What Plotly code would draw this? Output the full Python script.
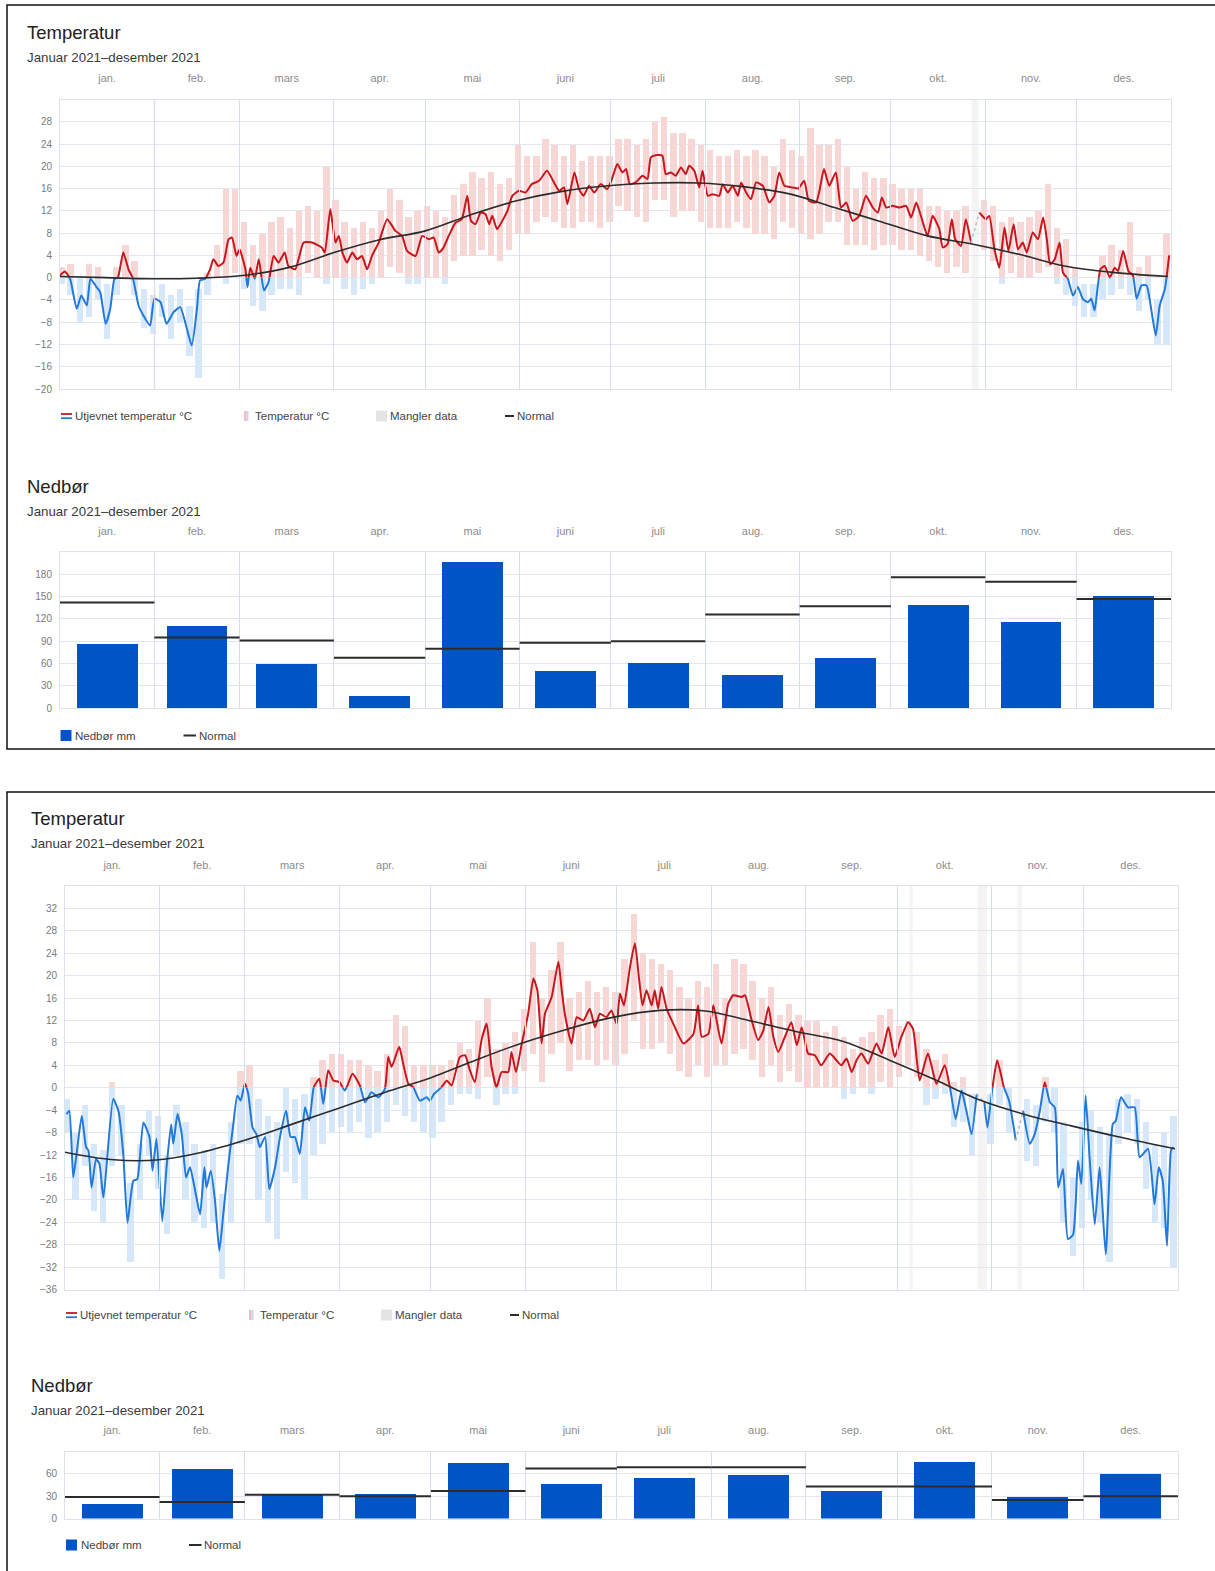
import pandas as pd
import plotly.graph_objects as go

W, H = 1215, 1571
START = pd.Timestamp("2021-01-01")
DAY_MS = 86400000
FONT = "Liberation Sans, Arial, sans-serif"

MONTHS = ["jan.", "feb.", "mars", "apr.", "mai", "juni", "juli", "aug.", "sep.", "okt.", "nov.", "des."]
PERIOD = "Januar 2021–desember 2021"

RED, BLUE = "#c8161d", "#2379d9"
PINK, LIGHTBLUE = "#f7d6d6", "#d5e7f9"
NORMAL_C = "#2b2b2b"
BAR_C = "#0054c6"
HGRID, VGRID, FRAME = "#e1e7ee", "#d6dee7", "#dbe2ea"

# ---------------- panel 1 : temperature ----------------
T1_DAYS = [0, 1.6, 3.3, 5.5, 7, 8.8, 10, 12, 13.2, 15,
           16.5, 17.9, 19, 20.8, 22.5, 24, 25.8, 27.4, 29.6, 31,
           33, 35, 37.3, 39.5, 41.7, 43.3, 45, 46, 47.7, 49.3,
           50.4, 52, 53.7, 55.4, 56.5, 58, 59, 60.9, 61.6, 62.5,
           64, 65.3, 67, 68.5, 70.2, 71.8, 73.8, 75, 77.3, 80,
           82.8, 86, 87, 88.8, 90.5, 91.6, 92.8, 94.3, 96, 97.6,
           99.2, 100.9, 102.5, 104.7, 107.5, 110.2, 112.4, 114, 116.8, 119,
           121.2, 122.8, 124.4, 126, 127.7, 130, 132, 133.8, 135, 136.5,
           138.2, 139.8, 141, 142, 143.6, 145.3, 147, 148.6, 150.8, 153,
           155, 157.4, 160, 162.3, 164, 165.6, 166.7, 169, 170.5, 172,
           173.8, 175.5, 177.6, 179.8, 181.5, 183.1, 184.8, 186, 187.2, 189.1,
           191.4, 193, 194.1, 195.7, 197.9, 199, 200.7, 202.3, 204, 205.6,
           206.7, 208.4, 210, 211.1, 212.8, 214.4, 216.6, 217.7, 219.4, 221,
           222.7, 223.8, 225.4, 227, 228.7, 230.9, 233, 234.7, 236.3, 238,
           240.7, 242.5, 244.5, 246, 248.4, 249.5, 251, 252.7, 254.9, 256.6,
           258.3, 260.4, 262.6, 264.8, 267, 268.7, 270, 271.4, 273.6, 275.8,
           278, 279.6, 281.3, 283, 285, 286.7, 288.9, 290, 291.6, 293,
           294.1, 296, 297.6, 299.3, 300.6, 302, 304.2, 305.3, 307, 308.6,
           310.3, 311.6, 313.3, 314.7, 316.3, 317.6, 319.6, 321.3, 323, 324.2,
           325.3, 326.8, 328.4, 329.5, 331.1, 332.8, 334.4, 336, 337.7, 338.8,
           339.9, 341.8, 343.2, 344.9, 346.5, 347.6, 349.3, 351, 352.5, 353.7,
           355.3, 357, 358.3, 360, 361.3, 363, 364.4]
T1_SMOOTH = [0.4, 1.1, -0.2, -5.6, -3.2, -5, -0.2, -1.7, -2.6, -8.3,
             -5.6, -0.2, 0, 4.5, 1.5, -0.2, -5, -6.8, -8.6, -3.8,
             -4.4, -8.3, -6.2, -5.3, -9.2, -12.2, -5.6, -0.5, -0.2, 1.5,
             3.3, 2.1, 2.7, 6.9, 7.2, 3.9, 5.1, 1.5, -1.7, 1.8,
             -0.2, 3.3, -2.3, -0.8, 3.9, 2.7, 4.5, 2.1, 1.5, 6.3,
             6.3, 5.4, 4.5, 12.3, 6.3, 7.5, 4.5, 2.7, 4.5, 3.3,
             3.9, 1.5, 3.9, 6.3, 10.5, 8.4, 7.5, 4.8, 3.9, 7.5,
             6.9, 7.2, 4.5, 5.4, 7.5, 9.9, 10.5, 14.7, 10.2, 9.6,
             11.7, 11.4, 9.6, 11.1, 8.7, 10.2, 12, 14.7, 15.6, 15.3,
             16.8, 17.4, 19.2, 17.1, 15.6, 16.2, 13.2, 18.9, 15.9, 14.7,
             16.5, 15.3, 16.8, 15.9, 18, 20.4, 18.9, 19.5, 16.8, 17.1,
             18.3, 17.7, 21.6, 22, 21.9, 18.6, 18.9, 18.3, 19.8, 18.6,
             20.1, 19.2, 16.2, 19.2, 14.7, 15, 14.7, 16.8, 15.3, 16.5,
             14.7, 17.1, 15.3, 14.1, 17.1, 16.5, 13.5, 14.7, 18.9, 16.5,
             16.2, 16, 17.4, 13.8, 13.5, 15.6, 19.5, 16.5, 18.9, 12.6,
             13.5, 10.2, 11.1, 14.7, 12.6, 11.7, 14.4, 12.6, 12.9, 12.6,
             12.9, 10.8, 13.5, 10.8, 7.5, 11.1, 8.7, 5.4, 6, 10.5,
             6.9, 5.7, 10.5, 6.3, None, 11.7, 10.5, 11.1, 5.1, 1.8,
             9, 4.8, 9.6, 5.1, 6.3, 4.5, 8.1, 6.9, 10.8, 6.9,
             2.4, 3.3, 6.3, 0.9, -0.2, -3.2, -1.7, -3.8, -4.4, -3.8,
             -5.9, 1.5, 2.1, 0, 1.8, 1.2, 4.8, 1.2, 0.4, -3.8,
             -1.4, -1.4, -5, -10.4, -5, -2, 4]
T1_NORMAL_DAYS = [0, 15, 30, 45, 60, 75, 90, 105, 120, 135, 150, 165, 180,
                  195, 210, 225, 240, 255, 270, 285, 300, 315, 330, 345, 364]
T1_NORMAL = [0.2, 0, -0.2, -0.1, 0.4, 1.8, 4.5, 6.8, 8.4, 11.3, 13.8, 15.5, 16.5,
             17, 17, 16.3, 15, 12.5, 10, 7.5, 6, 4.2, 2.1, 1, 0.2]
GRID_DAYS = list(range(0, 364, 3))
T1_LOW = [-1, -3, -8, -7, -4, -11, -3, 0, -3, -9,
          -10, -7, -11, -8, -14, -18, -3, 0, -1, 1,
          -2, -5, -6, -3, -2, -2, -3, 1, 0, -1,
          0, -2, -3, -2, -1, 0, 2, 1, -1, -1,
          0, 0, -1, 3, 4, 4, 5, 4, 3, 5,
          8, 8, 10, 11, 10, 9, 9, 10, 10, 9,
          10, 13, 12, 11, 10, 14, 14, 11, 12, 12,
          10, 9, 9, 9, 10, 9, 8, 8, 7, 10,
          9, 8, 7, 8, 10, 10, 6, 6, 6, 5,
          6, 6, 5, 5, 4, 3, 2, 1, 2, 1,
          None, 5, 3, -1, 1, 0, 0, 1, 2, -1,
          -3, -5, -7, -7, -4, -3, -2, -3, -6, -4,
          -12, -12]
T1_HIGH = [2, 2.5, 0, 2.5, 2, -1, 2, 6, 3, -2,
           -3, -1, -3, -2, -5, -2, 1, 6, 16, 16,
           10, 6, 8, 10, 11, 9, 12, 13, 12, 20,
           14, 10, 9, 10, 9, 12, 16, 14, 11, 12,
           13, 12, 11, 15, 17, 19, 18, 19, 17, 18,
           24, 22, 22, 25, 24, 22, 24, 21, 22, 22,
           22, 25, 25, 24, 25, 28, 29, 26, 26, 25,
           24, 23, 22, 22, 23, 22, 23, 22, 20, 25,
           23, 22, 27, 24, 24, 25, 20, 16, 19, 18,
           18, 17, 16, 16, 16, 13, 13, 12, 12, 13,
           None, 14, 13, 10, 11, 10, 11, 12, 17, 9,
           7, 2, -1, -1, 4, 6, 5, 10, 2, 4,
           -4, 8]
T1_GAP_DAYS = [299.3, 302]
T1_GAP = [6.3, 11.7]
T1_MISSING = [(30.7, 31.4), (299.5, 301.8)]
T1_TICKS = [-20, -16, -12, -8, -4, 0, 4, 8, 12, 16, 20, 24, 28]

# ---------------- panel 1 : precipitation ----------------
P1_MM = [87, 111, 59, 16, 197, 50, 61, 45, 67, 139, 116, 151]
P1_NORMAL = [142, 95, 91, 68, 80, 88, 90, 126, 137, 176, 170, 147]
P1_TICKS = [0, 30, 60, 90, 120, 150, 180]

# ---------------- panel 2 : temperature ----------------
T2_DAYS = [0.5, 1.4, 2.7, 3.8, 5.5, 6.9, 7.7, 8.7, 10.2, 11.3,
           12.6, 15.8, 17.5, 19.1, 20.5, 22.4, 23.7, 25.7, 27.7, 28.7,
           30, 31.9, 33.3, 34.8, 35.5, 36.9, 38.3, 39.7, 41, 42.9,
           44.3, 45.7, 46.4, 47.8, 49.2, 50.6, 51.9, 53.6, 55.2, 56.5,
           57.6, 59, 60.1, 61.5, 62.8, 63.9, 65.6, 67, 68.9, 70.5,
           72.5, 74, 75.4, 77, 78.7, 80.1, 81.6, 83.4, 84.7, 86.3,
           88, 90, 91.8, 94.3, 96.7, 98.4, 100.5, 102.7, 104.9, 106,
           107.1, 109.6, 110.9, 112.6, 114.2, 116.4, 118.6, 119.7, 121, 123.5,
           125.2, 126.8, 129.5, 131.2, 132.8, 134.4, 136.6, 138.3, 139.9, 141.5,
           143.2, 145.4, 146.4, 147.9, 149.8, 151.9, 153.6, 154.9, 156.3, 157.4,
           159.6, 161.8, 162.9, 164, 166.1, 167.8, 170, 172.1, 173.8, 175.4,
           177.6, 179.2, 180.9, 182, 183.3, 185.3, 186.9, 188.3, 189.4, 190.7,
           192.4, 193.4, 194.5, 195.6, 197.3, 199.5, 202.8, 206.1, 207.6, 208.8,
           211, 212.6, 215.3, 217.5, 219.1, 221.9, 223, 225.2, 227.3, 229,
           230.7, 232.3, 233.9, 236.1, 238.2, 240, 241.6, 243.7, 245.9, 248,
           250.8, 253, 254.6, 256.3, 258, 259.6, 261.2, 263.4, 266.1, 267.8,
           270, 272.1, 274.3, 276.5, 278.1, 280.3, 283, 285.8, 288.5, 290.2,
           292.1, 294, 295.6, 297.3, 299, 300.2, 301.5, 302.5, 304.1, 305.7,
           307.9, 309.6, 311.8, 313, 314.2, 316.4, 318, 319.7, 321.3, 323,
           324.6, 325.7, 327.3, 328.9, 330.6, 332.2, 333.3, 334.7, 336, 337.7,
           339.3, 341.3, 343.6, 344.6, 346.3, 348.6, 350.8, 352.4, 355.2, 357.3,
           358.7, 360, 361.4, 362.7, 363.5]
T2_SMOOTH = [-4.7, -4.1, -16.0, -11.8, -5.0, -10.6, -11.2, -17.8, -12.7, -13.6,
             -19.6, -2.0, -4.1, -11.8, -24.1, -16.6, -16.3, -6.2, -8.8, -14.8,
             -9.1, -23.8, -14.2, -6.5, -10.0, -4.7, -8.3, -16.0, -14.2, -19.0,
             -22.6, -14.2, -17.8, -14.8, -20.2, -29.1, -22.6, -13.6, -6.5, -1.4,
             -2.3, 0.7, -1.1, -7.1, -8.3, -10.6, -8.8, -18.1, -14.2, -8.8,
             -4.1, -8.8, -8.8, -11.8, -3.5, -5.9, 0.1, 1.6, -2.9, 3.1,
             1.3, 1.0, -0.5, 2.5, 0.4, -2.6, -0.8, -1.7, -0.2, 5.5,
             3.7, 7.3, 4.3, 0.7, 0.1, -2.3, -1.7, -2.3, -1.1, 0.1,
             1.3, 0.4, 5.5, 5.8, 3.1, 1.0, 8.5, 11.4, 3.7, 0.1,
             2.8, 2.8, 6.4, 2.8, 7.9, 13.2, 19.5, 17.4, 7.9, 13.2,
             16.2, 22.5, 17.4, 12.9, 7.9, 12.6, 12.0, 14.1, 10.8, 13.2,
             12.6, 13.8, 11.4, 16.8, 14.7, 21.6, 25.8, 19.2, 14.7, 17.4,
             14.7, 17.4, 14.1, 18.0, 14.1, 11.4, 7.9, 9.6, 14.7, 9.1,
             9.6, 14.7, 7.9, 15.0, 16.5, 16.2, 16.5, 12.0, 8.5, 10.2,
             14.4, 9.1, 6.4, 9.1, 11.7, 7.6, 10.8, 6.1, 5.8, 4.0,
             6.1, 4.9, 4.0, 5.2, 2.8, 4.9, 6.1, 4.3, 7.9, 6.1,
             10.8, 5.5, 9.1, 11.7, 10.5, 1.3, 6.1, 0.7, 4.0, 0.1,
             -5.6, -0.5, -4.1, -8.3, -1.1, None, -2.6, -7.1, -0.2, 4.9,
             0.1, -2.3, -9.4, None, -4.1, -10.0, -8.3, -4.1, 1.0, -2.6,
             -3.5, -17.8, -14.5, -27.0, -26.2, -13.0, -17.2, -1.4, -12.4, -24.4,
             -14.2, -29.7, -6.5, -5.9, -1.7, -3.5, -3.5, -12.4, -10.9, -20.8,
             -14.2, -16.6, -28.2, -11.2, -10.6]
T2_NORMAL_DAYS = T1_NORMAL_DAYS
T2_NORMAL = [-11.5, -12.8, -12.9, -11.5, -9.2, -6.4, -3.6, -0.8, 1.8, 5.0, 8.0, 10.5, 12.6,
             13.8, 13.7, 11.9, 10.0, 8.3, 5.0, 1.5, -2.2, -4.8, -6.8, -8.7, -10.9]
T2_LOW = [-8, -20, -14, -22, -24, -14, -12, -31, -20, -12,
          -18, -26, -12, -20, -24, -25, -24, -34, -24, -10,
          -10, -20, -24, -27, -15, -17, -20, -12, -10, -8,
          -7, -8, -6, -9, -8, -6, -3, -5, -6, -8,
          -9, -6, -3, -1, -1, -2, 2, -3, -1, -1,
          3, 6, 1, 6, 8, 3, 5, 5, 4, 5,
          4, 6, 12, 7, 7, 8, 6, 3, 2, 4,
          2, 4, 4, 6, 7, 5, 2, 4, 1, 3,
          1, 0, 0, 0, 0, -2, -1, 0, -1, 1,
          0, 2, 4, 2, -3, -2, -1, -7, -6, -12,
          None, -10, -3, -8, None, -13, -14, -6, -8, -24,
          -30, -25, -20, -24, -31, -10, -8, -10, -18, -24,
          -25, -32]
T2_HIGH = [-2, -8, -3, -10, -11, 1, -3, -17, -10, -4,
           -5, -12, -3, -6, -10, -11, -10, -19, -6, 3,
           4, -2, -5, -6, 0, -2, -1, 2, 5, 6,
           6, 5, 5, 4, 3, 6, 13, 11, 4, 4,
           4, 4, 5, 8, 7, 12, 16, 7, 8, 10,
           14, 26, 16, 21, 26, 16, 17, 19, 17, 18,
           17, 23, 31, 24, 23, 22, 21, 18, 16, 19,
           18, 22, 16, 23, 22, 19, 16, 18, 13, 15,
           13, 12, 12, 10, 11, 9, 7, 9, 10, 13,
           14, 11, 12, 10, 7, 5, 6, 1, 2, -1,
           None, -1, 5, 0, None, -2, -3, 2, 0, -6,
           -16, -6, -4, -7, -8, -2, -1, -2, -6, -10,
           -8, -5]
T2_GAP_DAYS = [299, 301.5, None, 311.8, 314.2]
T2_GAP = [-1.1, -2.6, None, -9.4, -4.1]
T2_MISSING = [(277, 278), (299.3, 302.3), (312.3, 313.8)]
T2_TICKS = [-36, -32, -28, -24, -20, -16, -12, -8, -4, 0, 4, 8, 12, 16, 20, 24, 28, 32]

# ---------------- panel 2 : precipitation ----------------
P2_MM = [20, 67, 32, 34, 75, 47, 55, 59, 37, 77, 30, 60]
P2_NORMAL = [29, 22, 32, 30, 37, 67, 69, 69, 43, 43, 25, 30]
P2_TICKS = [0, 30, 60]

month_starts = pd.date_range("2021-01-01", "2022-01-01", freq="MS")
month_mids = month_starts[:-1] + (month_starts[1:] - month_starts[:-1]) / 2


def px_x(x):
    return x / W


def px_y(y):
    return 1 - y / H


def to_dates(days, shift=0.0):
    return [None if d is None else START + pd.Timedelta(days=d + shift) for d in days]


def key(axid):
    return axid[0] + "axis" + axid[1:]


def month_xaxis(xpx, anchor):
    return dict(
        type="date", domain=[px_x(xpx[0]), px_x(xpx[1])], anchor=anchor, side="top",
        range=[month_starts[0], month_starts[-1]],
        tickmode="array", tickvals=list(month_mids), ticktext=MONTHS,
        ticks="", ticklabelstandoff=12, tickfont=dict(size=11, color="#8c8c8c"),
        showgrid=False, zeroline=False, automargin=False,
        minor=dict(tickmode="array", tickvals=list(month_starts), showgrid=True,
                   gridcolor=VGRID, gridwidth=1, ticks=""),
        showline=True, mirror=True, linecolor=FRAME, linewidth=1, fixedrange=True,
    )


def value_yaxis(ypx, anchor, rng, ticks, suffix):
    return dict(
        domain=[px_y(ypx[1]), px_y(ypx[0])], anchor=anchor, range=rng,
        tickmode="array", tickvals=ticks, ticksuffix=suffix,
        ticks="outside", ticklen=5, tickcolor="rgba(0,0,0,0)",
        tickfont=dict(size=10, color="#7a7a7a"), automargin=False,
        showgrid=True, gridcolor=HGRID, gridwidth=1, zeroline=False,
        showline=True, mirror=True, linecolor=FRAME, linewidth=1, fixedrange=True,
    )


fig = go.Figure()
layout = {}
shapes = []
annotations = []


def add_temp(xa, ya, yup, ylo, ynorm, xpx, ypx, yrange, ticks,
             days, smooth, ndays, normal, low, high, gap_days, gap_vals, missing):
    top, bottom = ypx
    lo, hi = yrange
    zero_px = top + hi / (hi - lo) * (bottom - top)
    full = [px_y(bottom), px_y(top)]
    split = px_y(zero_px)
    layout[key(xa)] = month_xaxis(xpx, ya)
    layout[key(ya)] = value_yaxis(ypx, xa, yrange, ticks, "°")
    layout[key(yup)] = dict(domain=[split, full[1]], anchor=xa, range=[0, hi], visible=False, fixedrange=True)
    layout[key(ylo)] = dict(domain=[full[0], split], anchor=xa, range=[lo, 0], visible=False, fixedrange=True)
    layout[key(ynorm)] = dict(domain=full, anchor=xa, range=yrange, visible=False, fixedrange=True)

    # an empty trace so the grid subplot is registered (and drawn first)
    fig.add_trace(go.Scatter(x=[month_starts[0]], y=[None], mode="lines",
                             xaxis=xa, yaxis=ya, hoverinfo="skip"))

    for d0, d1 in missing:
        shapes.append(dict(type="rect", xref=xa, yref=ya + " domain", layer="below",
                           x0=START + pd.Timedelta(days=d0), x1=START + pd.Timedelta(days=d1),
                           y0=0, y1=1, fillcolor="#f4f4f4", line=dict(width=0)))

    bar_x = to_dates(GRID_DAYS, 0.5)
    heights = [None if h is None else h - l for l, h in zip(low, high)]
    line_x = to_dates(days)
    for axis, bar_col, line_col in ((yup, PINK, RED), (ylo, LIGHTBLUE, BLUE)):
        fig.add_trace(go.Bar(x=bar_x, y=heights, base=low, width=2.1 * DAY_MS,
                             marker=dict(color=bar_col, line=dict(width=0)),
                             xaxis=xa, yaxis=axis, hoverinfo="skip"))
        fig.add_trace(go.Scatter(x=line_x, y=smooth, mode="lines",
                                 line=dict(color=line_col, width=2, shape="spline", smoothing=0.5),
                                 xaxis=xa, yaxis=axis, hoverinfo="skip"))
    fig.add_trace(go.Scatter(x=to_dates(gap_days), y=gap_vals, mode="lines",
                             line=dict(color="#b9b9b9", width=1.5, dash="dot"),
                             xaxis=xa, yaxis=ynorm, hoverinfo="skip"))
    fig.add_trace(go.Scatter(x=to_dates(ndays), y=normal, mode="lines",
                             line=dict(color=NORMAL_C, width=1.6, shape="spline"),
                             xaxis=xa, yaxis=ynorm, hoverinfo="skip"))


def add_precip(xa, ya, xpx, ypx, yrange, ticks, mm, normal):
    layout[key(xa)] = month_xaxis(xpx, ya)
    layout[key(ya)] = value_yaxis(ypx, xa, yrange, ticks, "")
    fig.add_trace(go.Bar(x=list(month_mids), y=mm, width=20 * DAY_MS,
                         marker=dict(color=BAR_C, line=dict(width=0)),
                         xaxis=xa, yaxis=ya, hoverinfo="skip"))
    seg_x, seg_y = [], []
    for i, v in enumerate(normal):
        seg_x += [month_starts[i], month_starts[i + 1], None]
        seg_y += [v, v, None]
    fig.add_trace(go.Scatter(x=seg_x, y=seg_y, mode="lines",
                             line=dict(color=NORMAL_C, width=2),
                             xaxis=xa, yaxis=ya, hoverinfo="skip"))


def text(x, y, s, size, color):
    annotations.append(dict(x=px_x(x), y=px_y(y), xref="paper", yref="paper", text=s,
                            showarrow=False, xanchor="left", yanchor="middle",
                            font=dict(size=size, color=color, family=FONT)))


def rect(x0, y0, x1, y1, color):
    shapes.append(dict(type="rect", xref="paper", yref="paper", x0=px_x(x0), x1=px_x(x1),
                       y0=px_y(y1), y1=px_y(y0), fillcolor=color, line=dict(width=0)))


def hline(x0, x1, y, color, width):
    shapes.append(dict(type="line", xref="paper", yref="paper", x0=px_x(x0), x1=px_x(x1),
                       y0=px_y(y), y1=px_y(y), line=dict(color=color, width=width)))


def headings(x, y, title):
    text(x - 4, y, title, 18.5, "#222222")
    text(x - 4, y + 25, PERIOD, 13.3, "#3a3a3a")


def temp_legend(y, dx):
    hline(61 + dx, 72 + dx, y - 2, RED, 1.8)
    hline(61 + dx, 72 + dx, y + 2.2, BLUE, 1.8)
    text(73 + dx, y, "Utjevnet temperatur °C", 11.5, "#444444")
    rect(244 + dx, y - 5, 246.3 + dx, y + 5, "#f2b9c4")
    rect(246.3 + dx, y - 5, 248.5 + dx, y + 5, "#c9d6f4")
    text(252.5 + dx, y, "Temperatur °C", 11.5, "#444444")
    rect(376 + dx, y - 5.5, 387 + dx, y + 5.5, "#e4e4e4")
    text(388 + dx, y, "Mangler data", 11.5, "#444444")
    hline(505 + dx, 514 + dx, y, NORMAL_C, 2)
    text(515 + dx, y, "Normal", 11.5, "#444444")


def precip_legend(y, dx):
    rect(60.5 + dx, y - 5.5, 71.5 + dx, y + 5.5, BAR_C)
    text(73 + dx, y, "Nedbør mm", 11.5, "#444444")
    hline(183.5 + dx, 196 + dx, y, NORMAL_C, 2)
    text(196.5 + dx, y, "Normal", 11.5, "#444444")


# panel 1
add_temp("x", "y", "y5", "y6", "y7", (60, 1171), (99.5, 389), [-20, 32], T1_TICKS,
         T1_DAYS, T1_SMOOTH, T1_NORMAL_DAYS, T1_NORMAL, T1_LOW, T1_HIGH,
         T1_GAP_DAYS, T1_GAP, T1_MISSING)
add_precip("x2", "y2", (60, 1171), (552, 708.3), [0, 210], P1_TICKS, P1_MM, P1_NORMAL)
headings(29, 33, "Temperatur")
temp_legend(416, 0)
headings(29, 486.5, "Nedbør")
precip_legend(735.5, 0)

# panel 2
add_temp("x3", "y3", "y8", "y9", "y10", (65, 1178), (886, 1289.5), [-36, 36], T2_TICKS,
         T2_DAYS, T2_SMOOTH, T2_NORMAL_DAYS, T2_NORMAL, T2_LOW, T2_HIGH,
         T2_GAP_DAYS, T2_GAP, T2_MISSING)
add_precip("x4", "y4", (65, 1178), (1451.5, 1518.5), [0, 90], P2_TICKS, P2_MM, P2_NORMAL)
headings(33, 818.5, "Temperatur")
temp_legend(1315, 5)
headings(33, 1385, "Nedbør")
precip_legend(1545, 5.5)

# screenshot frames
shapes.append(dict(type="rect", xref="paper", yref="paper", x0=px_x(7), x1=px_x(1225),
                   y0=px_y(749), y1=px_y(5), line=dict(color="#111111", width=1.5)))
shapes.append(dict(type="rect", xref="paper", yref="paper", x0=px_x(7), x1=px_x(1225),
                   y0=px_y(1590), y1=px_y(792), line=dict(color="#111111", width=1.5)))

fig.update_layout(
    width=W, height=H, margin=dict(l=0, r=0, t=0, b=0, pad=0, autoexpand=False),
    paper_bgcolor="white", plot_bgcolor="rgba(0,0,0,0)",
    showlegend=False, barmode="overlay", bargap=0,
    font=dict(family=FONT, color="#444444"),
    shapes=shapes, annotations=annotations, **layout,
)

# the page body has a default 8px margin; drop it so the figure sits at the window origin
fig.write_html("out.html", config={"displayModeBar": False},
               post_script="document.body.style.margin = '0px';")
